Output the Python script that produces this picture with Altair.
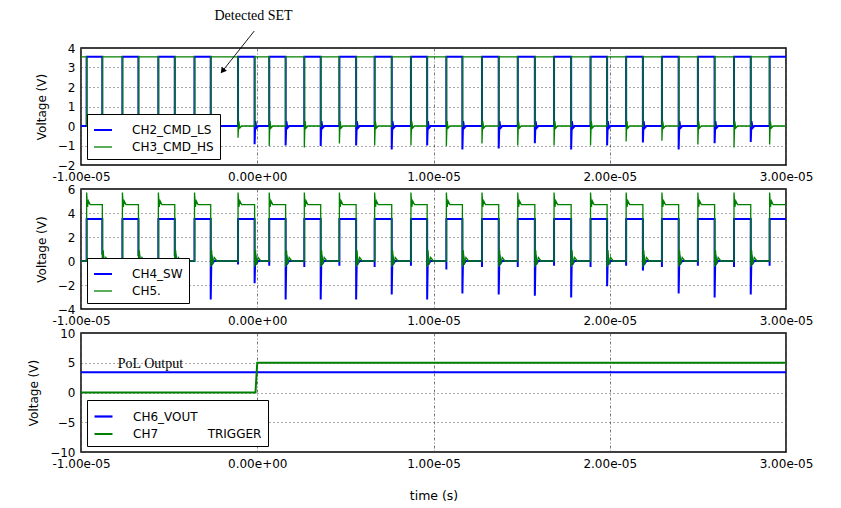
import altair as alt
import pandas as pd

# ---------------- data (time in microseconds) ----------------
T_START, T_END = -10.0, 30.0

# instants where CH2_CMD_LS / CH4_SW go high, and where they go low
LS_RISE_US = [-9.68, -7.65, -5.61, -3.56, -1.09, 0.68, 2.67, 4.66, 6.66, 8.72,
              10.73, 12.75, 14.78, 16.84, 18.91, 20.93, 22.96, 25.00, 27.05, 29.07]
LS_FALL_US = [-8.79, -6.74, -4.68, -2.64, -0.15, 1.61, 3.60, 5.61, 7.63, 9.64,
              11.64, 13.70, 15.75, 17.81, 19.85, 21.88, 23.91, 25.95, 28.00]

# panel 1 levels and ringing spikes (V)
CMD_HIGH = 3.55
CMD_LS_SPIKE = [0, 0, 0, -1.0, -0.94, -1.0, -1.03, -1.0, -1.2, -1.0,
                -1.2, -1.15, -0.88, -1.2, -1.0, -0.85, -1.2, -0.88, -0.82]
CMD_HS_SPIKE = [0, 0, 0, 0, -0.6, -1.03, -1.1, -0.9, -1.0, -1.0,
                -1.03, -0.9, -1.0, -1.0, -1.0, -0.8, -0.75, -0.95, -1.1, -0.95]
CMD_RING_DT = [0.04, 0.10, 0.20]
CMD_RING_V = [0.25, -0.10, 0.0]

# panel 2 levels and ringing
SW_HIGH = 3.5
SW_SPIKE = [0.6, 0.5, 0.5, -3.2, -1.85, -3.2, -3.2, -3.2, -2.8, -3.2,
            -2.7, -2.8, -2.9, -3.05, -2.1, -0.8, -2.7, -3.05, -2.8]
SW_RISE_DIP = [0, 0, 0, 0, -0.3, -0.4, -0.5, -0.4, -0.5, -0.4,
               -0.7, -0.5, -0.5, -0.4, -0.5, -0.4, -0.5, -0.4, -0.5, -0.4]
SW_RING_DT = [0.04, 0.10, 0.20]
SW_RING_V = [0.5, -0.2, 0.0]
CH5_HIGH = 4.7
CH5_RISE_DT = [0.0, 0.05, 0.10, 0.20]
CH5_RISE_V = [5.7, 4.5, 5.0, 4.7]
CH5_FALL_DT = [0.0, 0.05, 0.10, 0.20, 0.35]
CH5_FALL_V = [-0.5, 0.9, -0.3, 0.3, 0.0]

# panel 3
VOUT_LEVEL = 3.4
TRIG_T = [-10.0, -0.10, 0.0, 30.0]
TRIG_V = [0.0, 0.0, 5.0, 5.0]

# labels
SERIES_1 = ["CH2_CMD_LS", "CH3_CMD_HS"]
SERIES_2 = ["CH4_SW", "CH5."]
SERIES_3 = ["CH6_VOUT", "CH7" + "\u00a0" * 13 + "TRIGGER"]
COLORS = ["#0000ff", "#008000"]
X_TICK_VALUES = [-10, 0, 10, 20, 30]
X_TICK_LABELS = ["-1.00e-05", "0.00e+00", "1.00e-05", "2.00e-05", "3.00e-05"]
Y1_TICKS = [-2, -1, 0, 1, 2, 3, 4]
Y2_TICKS = [-4, -2, 0, 2, 4, 6]
Y3_TICKS = [-10, -5, 0, 5, 10]

ANNOT_TEXT = ["Detected SET", "PoL Output"]
ANNOT_T = [-0.21, -6.06]
ANNOT_V = [5.64, 4.8]
ARROW_T = [-0.17, -1.97]
ARROW_V = [4.87, 2.82]


# ---------------- build the polylines ----------------
def add(rows, name, t, v):
    rows.append({"ch": name, "t": t, "v": v, "i": len(rows)})


def ring(rows, name, t0, spike, dts, vs):
    add(rows, name, t0, spike)
    if spike != 0:
        for dt, vv in zip(dts, vs):
            add(rows, name, t0 + dt, vv)


rows1 = []
add(rows1, SERIES_1[0], T_START, 0.0)
for k, r in enumerate(LS_RISE_US):
    add(rows1, SERIES_1[0], r, 0.0)
    add(rows1, SERIES_1[0], r, CMD_HIGH)
    if k < len(LS_FALL_US):
        f = LS_FALL_US[k]
        add(rows1, SERIES_1[0], f, CMD_HIGH)
        ring(rows1, SERIES_1[0], f, CMD_LS_SPIKE[k], CMD_RING_DT, CMD_RING_V)
    else:
        add(rows1, SERIES_1[0], T_END, CMD_HIGH)
add(rows1, SERIES_1[1], T_START, CMD_HIGH)
for k, r in enumerate(LS_RISE_US):
    add(rows1, SERIES_1[1], r, CMD_HIGH)
    ring(rows1, SERIES_1[1], r, CMD_HS_SPIKE[k], CMD_RING_DT, CMD_RING_V)
    if k < len(LS_FALL_US):
        f = LS_FALL_US[k]
        add(rows1, SERIES_1[1], f, 0.0)
        add(rows1, SERIES_1[1], f, CMD_HIGH)
    else:
        add(rows1, SERIES_1[1], T_END, 0.0)
df1 = pd.DataFrame(rows1)

rows2 = []
add(rows2, SERIES_2[0], T_START, 0.0)
for k, r in enumerate(LS_RISE_US):
    add(rows2, SERIES_2[0], r, 0.0)
    if SW_RISE_DIP[k] != 0:
        add(rows2, SERIES_2[0], r, SW_RISE_DIP[k])
    add(rows2, SERIES_2[0], r, SW_HIGH)
    if k < len(LS_FALL_US):
        f = LS_FALL_US[k]
        add(rows2, SERIES_2[0], f, SW_HIGH)
        ring(rows2, SERIES_2[0], f, SW_SPIKE[k], SW_RING_DT, SW_RING_V)
    else:
        add(rows2, SERIES_2[0], T_END, SW_HIGH)
add(rows2, SERIES_2[1], T_START, 0.0)
for k, r in enumerate(LS_RISE_US):
    add(rows2, SERIES_2[1], r, 0.0)
    for dt, vv in zip(CH5_RISE_DT, CH5_RISE_V):
        add(rows2, SERIES_2[1], r + dt, vv)
    if k < len(LS_FALL_US):
        f = LS_FALL_US[k]
        add(rows2, SERIES_2[1], f, CH5_HIGH)
        for dt, vv in zip(CH5_FALL_DT, CH5_FALL_V):
            add(rows2, SERIES_2[1], f + dt, vv)
    else:
        add(rows2, SERIES_2[1], T_END, CH5_HIGH)
df2 = pd.DataFrame(rows2)

rows3 = []
add(rows3, SERIES_3[0], T_START, VOUT_LEVEL)
add(rows3, SERIES_3[0], T_END, VOUT_LEVEL)
for t, v in zip(TRIG_T, TRIG_V):
    add(rows3, SERIES_3[1], t, v)
df3 = pd.DataFrame(rows3)

annot1 = pd.DataFrame({"t": [ANNOT_T[0]], "v": [ANNOT_V[0]], "txt": [ANNOT_TEXT[0]]})
annot3 = pd.DataFrame({"t": [ANNOT_T[1]], "v": [ANNOT_V[1]], "txt": [ANNOT_TEXT[1]]})
arrow = pd.DataFrame({"t": [ARROW_T[0]], "v": [ARROW_V[0]], "t2": [ARROW_T[1]], "v2": [ARROW_V[1]]})
arrow_head = pd.DataFrame({"t": [ARROW_T[1]], "v": [ARROW_V[1]]})

label_expr = ""
for val, lab in zip(X_TICK_VALUES, X_TICK_LABELS):
    label_expr += f"datum.value == {val} ? '{lab}' : "
label_expr += "''"

FONT = "DejaVu Sans"
W = 705


def x_enc(title=None):
    if title:
        kw = dict(title=title, titlePadding=20, titleFont=FONT, titleFontSize=12.5,
                  titleFontWeight="normal", titleColor="black")
    else:
        kw = dict(title=None)
    return alt.X("t:Q", scale=alt.Scale(domain=[T_START, T_END], nice=False, zero=False),
                 axis=alt.Axis(values=X_TICK_VALUES, labelExpr=label_expr, grid=True,
                               gridDash=[3, 2, 1, 2], gridColor="#555555", gridWidth=0.8,
                               ticks=False, domain=False, labelPadding=6, labelFlush=False,
                               **kw))


def y_enc(dom, ticks):
    return alt.Y("v:Q", scale=alt.Scale(domain=dom, nice=False, zero=False),
                 axis=alt.Axis(values=ticks, grid=True, gridDash=[1, 3], gridColor="#444444",
                               gridWidth=0.9, ticks=False, domain=False, labelPadding=6,
                               title="Voltage (V)", titleFont=FONT, titleFontSize=12,
                               titleFontWeight="normal", titlePadding=9, titleColor="black"))


def legend():
    return alt.Legend(title=None, titlePadding=0, orient="bottom-left", offset=6,
                      fillColor="white", strokeColor="black", padding=6,
                      symbolType="stroke", symbolSize=324,
                      labelFont=FONT, labelFontSize=12, labelColor="black",
                      labelOffset=19, rowPadding=1, cornerRadius=0)


def waves(df, series, dom, ticks, widths, xtitle=None):
    return alt.Chart(df).mark_line(interpolate="linear", strokeJoin="miter").encode(
        x=x_enc(xtitle),
        y=y_enc(dom, ticks),
        color=alt.Color("ch:N", scale=alt.Scale(domain=series, range=COLORS), legend=legend()),
        strokeWidth=alt.StrokeWidth("ch:N", scale=alt.Scale(domain=series, range=widths),
                                    legend=legend()),
        order=alt.Order("i:Q"),
    )


def text_layer(df, dom, ticks, xtitle=None):
    return alt.Chart(df).mark_text(font="Liberation Serif", fontSize=14, color="black",
                                   align="center", baseline="middle").encode(
        x=x_enc(xtitle), y=y_enc(dom, ticks), text="txt:N")


p1 = alt.layer(
    waves(df1, SERIES_1, [-2, 4], Y1_TICKS, [2.0, 1.3]),
    text_layer(annot1, [-2, 4], Y1_TICKS),
    alt.Chart(arrow).mark_rule(color="black", strokeWidth=0.9).encode(
        x=x_enc(), y=y_enc([-2, 4], Y1_TICKS), x2="t2:Q", y2="v2:Q"),
    alt.Chart(arrow_head).mark_point(shape="triangle-up", filled=True, color="black",
                                     size=45, angle=218, opacity=1).encode(
        x=x_enc(), y=y_enc([-2, 4], Y1_TICKS)),
).properties(width=W, height=117)

p2 = waves(df2, SERIES_2, [-4, 6], Y2_TICKS, [2.0, 1.3]).properties(width=W, height=120)

p3 = alt.layer(
    waves(df3, SERIES_3, [-10, 10], Y3_TICKS, [2.2, 2.0], xtitle="time (s)"),
    text_layer(annot3, [-10, 10], Y3_TICKS, xtitle="time (s)"),
).properties(width=W, height=119)

chart = alt.vconcat(p1, p2, p3, spacing=24, bounds="flush").resolve_scale(
    y="independent", color="independent", strokeWidth="independent"
).resolve_legend(color="independent", strokeWidth="independent").properties(
    padding={"left": 18, "top": 0, "right": 5, "bottom": 5},
    background="white",
).configure_view(stroke="black", strokeWidth=1.5).configure_axis(
    labelFont=FONT, labelFontSize=12, labelColor="black"
)

chart.save("out.html", embed_options={"renderer": "svg", "actions": False})
